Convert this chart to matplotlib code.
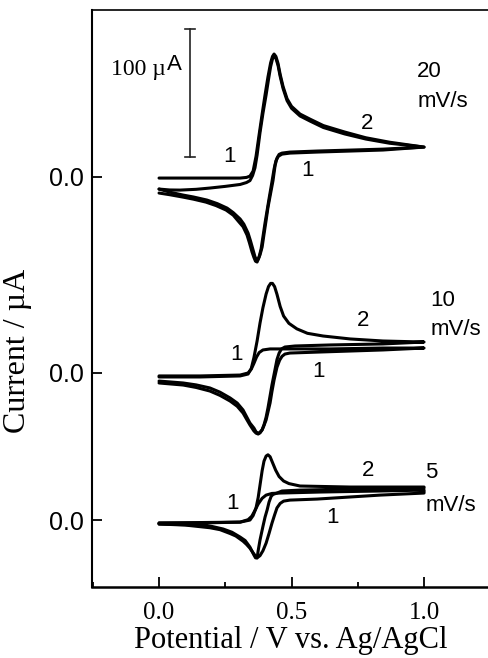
import numpy as np
import matplotlib
matplotlib.use("Agg")
import matplotlib.pyplot as plt
from matplotlib.ticker import MultipleLocator

SERIF = "Liberation Serif"
SANS = "Liberation Sans"

# scan rates, top to bottom, and the current (uA) where each trace's "0.0" sits
rates = ["20", "10", "5"]
baselines = [320.5, 167.2, 52.3]
scale_bar = 100.0  # uA

# ---- 20 mV/s (forward scan then reverse scan) ----------------------------
e20_1 = [0.000, 0.155, 0.306, 0.330, 0.343, 0.355, 0.366, 0.377, 0.389, 0.400, 0.411, 0.421, 0.428, 0.434, 0.441, 0.449,
         0.457, 0.468, 0.483, 0.500, 0.532, 0.570, 0.620, 0.700, 0.780, 0.870, 1.000,
         0.845, 0.596, 0.494, 0.464, 0.453, 0.445, 0.438, 0.430, 0.420, 0.411, 0.404, 0.396, 0.389, 0.381, 0.374, 0.368,
         0.362, 0.355, 0.345, 0.336, 0.320, 0.306, 0.280, 0.257, 0.220, 0.181, 0.130, 0.091, 0.040, 0.000]
i20_1 = [-1.0, -1.0, -1.0, -0.5, 0.5, 4.5, 16.0, 32.0, 49.0, 64.0, 78.0, 89.0, 94.0, 95.9, 94.0, 88.5,
         80.0, 70.5, 61.0, 55.0, 49.0, 45.0, 40.0, 35.0, 30.5, 27.0, 23.2,
         21.6, 20.1, 19.3, 18.5, 17.5, 14.5, 9.0, -3.0, -14.0, -24.0, -34.0, -45.0, -54.9, -61.0, -64.5, -65.0,
         -62.5, -57.3, -50.0, -44.0, -37.0, -33.0, -28.0, -24.5, -21.0, -18.2, -15.8, -14.3, -12.0, -9.6]
e20_2 = [0.000, 0.040, 0.079, 0.140, 0.192, 0.250, 0.306, 0.330, 0.343, 0.353, 0.362, 0.370, 0.381, 0.392, 0.404, 0.413,
         0.421, 0.428, 0.434, 0.441, 0.449, 0.457, 0.468, 0.483, 0.500, 0.532, 0.570, 0.620, 0.700, 0.780, 0.870, 1.000,
         0.845, 0.596, 0.494, 0.464, 0.450, 0.441, 0.434, 0.426, 0.416, 0.408, 0.400, 0.392, 0.385, 0.377, 0.370, 0.364,
         0.358, 0.351, 0.341, 0.332, 0.317, 0.302, 0.280, 0.253, 0.215, 0.177, 0.130, 0.091, 0.040, 0.000]
i20_2 = [-9.6, -10.3, -10.4, -9.8, -8.8, -7.5, -6.0, -4.5, -3.0, 1.0, 7.0, 17.0, 34.5, 49.5, 64.0, 76.0,
         86.0, 92.0, 94.3, 92.5, 87.0, 78.5, 69.0, 59.5, 53.5, 47.5, 43.5, 38.5, 33.5, 29.5, 26.2, 23.2,
         20.9, 19.3, 18.5, 17.7, 16.0, 12.5, 6.0, -4.0, -16.0, -26.0, -36.0, -47.0, -56.5, -63.0, -66.6, -66.0,
         -63.0, -58.8, -51.5, -45.5, -39.0, -35.4, -30.0, -26.0, -22.5, -19.8, -17.5, -15.9, -14.0, -12.7]

# ---- 10 mV/s -------------------------------------------------------------
e10_1 = [0.000, 0.155, 0.306, 0.336, 0.348, 0.358, 0.368, 0.378, 0.392, 0.419, 0.645, 0.845, 1.000,
         1.000, 0.845, 0.608, 0.494, 0.475, 0.464, 0.455, 0.445, 0.434, 0.426, 0.419, 0.411, 0.404, 0.396, 0.389,
         0.381, 0.374, 0.366, 0.358, 0.343, 0.330, 0.317, 0.295, 0.268, 0.230, 0.192, 0.140, 0.091, 0.000]
i10_1 = [-2.3, -2.3, -1.6, 0.0, 3.0, 7.5, 12.5, 16.0, 18.0, 18.8, 18.8, 19.5, 19.5,
         19.5, 18.0, 16.4, 15.6, 14.8, 13.0, 10.0, 4.5, -5.5, -14.5, -23.4, -30.5, -36.7, -41.0, -44.5,
         -46.8, -47.7, -47.0, -45.3, -40.6, -36.0, -31.3, -26.0, -21.9, -17.5, -14.1, -11.3, -9.4, -7.8]
e10_2 = [0.000, 0.155, 0.306, 0.336, 0.348, 0.358, 0.370, 0.381, 0.392, 0.404, 0.413, 0.421, 0.428, 0.436, 0.445,
         0.457, 0.470, 0.490, 0.520, 0.560, 0.619, 0.721, 0.845, 1.000,
         0.845, 0.645, 0.513, 0.475, 0.462, 0.453, 0.445, 0.436, 0.426, 0.418, 0.411, 0.404, 0.396, 0.389, 0.381,
         0.374, 0.366, 0.358, 0.343, 0.330, 0.317, 0.295, 0.268, 0.230, 0.192, 0.140, 0.091, 0.000]
i10_2 = [-3.1, -3.1, -2.3, -0.8, 3.5, 12.0, 25.0, 39.0, 51.0, 61.7, 67.5, 70.0, 70.0, 67.5, 61.5,
         52.0, 44.5, 38.8, 34.5, 31.0, 28.9, 26.6, 25.0, 24.2,
         22.7, 21.9, 21.1, 20.3, 18.8, 15.5, 10.5, 1.0, -9.4, -19.0, -27.3, -34.5, -40.6, -44.3, -46.3,
         -47.0, -46.0, -43.0, -39.1, -34.0, -28.9, -23.5, -19.5, -15.0, -11.7, -9.3, -7.8, -6.3]

# ---- 5 mV/s --------------------------------------------------------------
e5_1 = [0.000, 0.306, 0.336, 0.350, 0.362, 0.374, 0.389, 0.404, 0.426, 0.457, 0.608, 0.834, 1.000,
        1.000, 0.834, 0.596, 0.494, 0.470, 0.457, 0.445, 0.436, 0.426, 0.415, 0.404, 0.392, 0.381, 0.374,
        0.366, 0.358, 0.343, 0.330, 0.317, 0.290, 0.268, 0.230, 0.192, 0.098, 0.000]
i5_1 = [-2.3, -1.6, 0.3, 3.0, 7.5, 12.5, 17.0, 19.5, 20.8, 21.1, 21.9, 22.7, 23.4,
        21.1, 19.5, 16.4, 15.6, 14.8, 13.0, 9.5, 4.0, -2.5, -10.5, -18.0, -24.0, -27.8, -28.9,
        -28.5, -26.5, -22.0, -19.0, -16.5, -12.5, -10.5, -7.5, -6.0, -3.9, -3.1]
e5_2 = [0.000, 0.155, 0.306, 0.343, 0.355, 0.366, 0.374, 0.381, 0.389, 0.396, 0.404, 0.411, 0.419, 0.428, 0.440,
        0.453, 0.470, 0.490, 0.532, 0.721, 1.000,
        1.000, 0.721, 0.532, 0.464, 0.445, 0.430, 0.423, 0.415, 0.408, 0.400, 0.392, 0.381, 0.374, 0.370, 0.364,
        0.358, 0.350, 0.343, 0.325, 0.306, 0.275, 0.242, 0.200, 0.155, 0.000]
i5_2 = [-2.3, -2.3, -1.6, 0.0, 3.5, 9.5, 17.5, 27.3, 38.5, 46.0, 50.0, 51.0, 49.5, 45.0, 39.0,
        34.0, 30.5, 28.5, 26.6, 25.8, 25.8,
        25.0, 24.2, 23.4, 22.7, 21.1, 20.0, 18.5, 14.0, 8.0, 2.3, -5.0, -15.6, -24.0, -29.7, -29.5,
        -27.3, -24.0, -21.1, -16.0, -13.3, -9.5, -7.0, -5.0, -3.9, -3.1]

traces = [[(e20_1, i20_1), (e20_2, i20_2)],
          [(e10_1, i10_1), (e10_2, i10_2)],
          [(e5_1, i5_1), (e5_2, i5_2)]]

# curve numbers written next to each trace: (E, current above baseline, text)
curve_labels = [
    [(0.264, 16.2, "1"), (0.562, 5.2, "1"), (0.785, 42.0, "2")],
    [(0.291, 14.1, "1"), (0.600, 0.8, "1"), (0.770, 41.4, "2")],
    [(0.279, 13.3, "1"), (0.653, 2.3, "1"), (0.789, 39.1, "2")],
]
# scan-rate annotation: (E of left edge, current of upper line, current of lower line)
rate_labels = [(0.974, 82.6, 59.1), (1.023, 57.0, 33.6), (1.004, 37.5, 11.7)]

fig = plt.figure(figsize=(4.89, 6.58), dpi=100)
ax = fig.add_axes([0.1881, 0.1079, 0.8119, 0.8769])

for pair, base in zip(traces, baselines):
    for e, i in pair:
        ax.plot(e, np.array(i) + base, color="black", lw=2.2,
                solid_joinstyle="round", solid_capstyle="round")

for labels, base in zip(curve_labels, baselines):
    for e, i, t in labels:
        ax.text(e, base + i, t, family=SANS, fontsize=16, ha="center", va="center")

for (e, up, lo), r, base in zip(rate_labels, rates, baselines):
    ax.text(e, base + up, r, family=SANS, fontsize=16, ha="left", va="center")
    ax.text(e, base + lo, "mV/s", family=SANS, fontsize=16, ha="left", va="center")

# 100 uA scale bar
bar_x, bar_top = 0.117, 435.9
ax.plot([bar_x, bar_x], [bar_top - scale_bar, bar_top], color="#222222", lw=1.2)
for yy in (bar_top - scale_bar, bar_top):
    ax.plot([bar_x - 0.02, bar_x + 0.02], [yy, yy], color="#222222", lw=1.2)
a_txt = ax.text(0.087, 404, "A", family=SANS, fontsize=16, ha="right", va="baseline")
ax.annotate("100 \u00b5", xy=(0, 0), xycoords=a_txt, xytext=(-1, 0), textcoords="offset points",
            family=SERIF, fontsize=17, ha="right", va="baseline")

ax.set_xlim(-0.253, 1.245)
ax.set_ylim(0, 450.8)
ax.set_xticks([0.0, 0.5, 1.0])
ax.set_xticklabels(["0.0", "0.5", "1.0"], family=SERIF, fontsize=18)
ax.xaxis.set_minor_locator(MultipleLocator(0.25))
ax.set_yticks(baselines)
ax.set_yticklabels(["0.0"] * len(baselines), family=SANS, fontsize=18)

ax.tick_params(axis="x", which="major", direction="in", length=7, width=1.3, pad=11)
ax.tick_params(axis="x", which="minor", direction="in", length=3.5, width=1.3)
ax.tick_params(axis="y", which="major", direction="in", length=7, width=1.3, pad=6)

ax.spines["left"].set_linewidth(1.5)
ax.spines["bottom"].set_linewidth(1.8)
ax.spines["top"].set_linewidth(1.2)
ax.spines["right"].set_color("#d8d8d8")
ax.spines["right"].set_linewidth(1.0)

ax.set_xlabel("Potential / V vs. Ag/AgCl", family=SERIF, fontsize=22, labelpad=1)
ax.set_ylabel("Current / \u00b5A", family=SERIF, fontsize=23)
ax.yaxis.set_label_coords(-0.15, 0.41)

fig.savefig("out.png", dpi=100)
